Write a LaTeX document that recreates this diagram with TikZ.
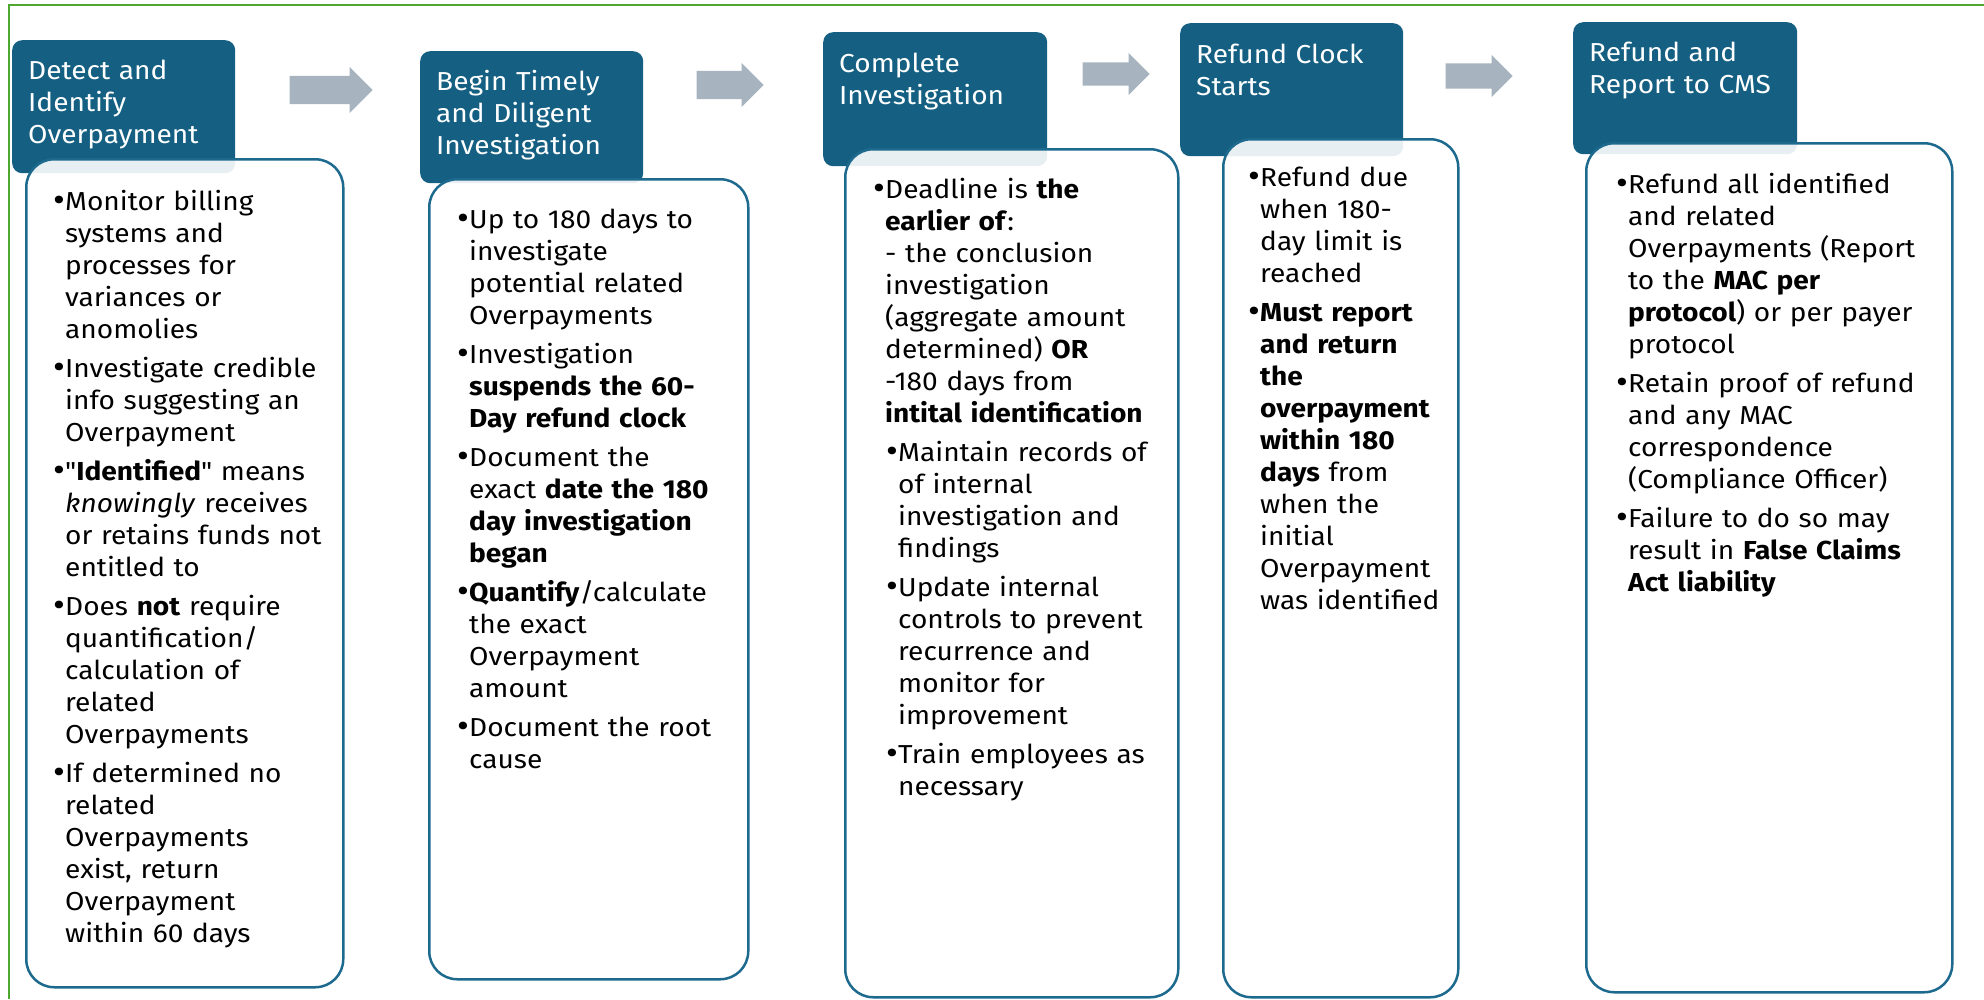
\documentclass[tikz,border=0pt]{standalone}
\usepackage{fontspec}
\usepackage{graphicx}
\setmainfont{Fira Sans}[FakeStretch=1.08]
\newfontfamily\plainq{Fira Sans}[FakeStretch=1.08]
\usetikzlibrary{shapes.arrows}
\definecolor{hdrblue}{HTML}{156082}
\definecolor{bodyblue}{HTML}{1D6A8E}
\definecolor{arrgray}{HTML}{A7B3BF}
\definecolor{frgreen}{HTML}{4EA72E}
\newlength{\bind}\setlength{\bind}{12pt}
\newcommand{\txtfont}{\fontsize{26}{32}\selectfont}
\newcommand{\bdot}{\raisebox{-1.5pt}{\scalebox{1.3}{\textbullet}}}
\newcommand{\bitem}[2][0pt]{\leftskip=#1\relax\hangindent=\bind\hangafter=1\noindent\makebox[\bind][l]{\rule{0pt}{24pt}\bdot}#2\par}
\newcommand{\htx}[1]{\noindent\rule{0pt}{24pt}#1}
\newcommand{\sq}{{\plainq"}}
\begin{document}
\begin{tikzpicture}[x=1pt,y=-1pt,
  hdr/.style={draw=none,fill=hdrblue,rounded corners=10pt,inner sep=0pt,anchor=north west},
  bodybox/.style={draw=bodyblue,line width=2.5pt,fill=white,fill opacity=0.9,rounded corners=28pt,inner sep=0pt,anchor=north west},
  htext/.style={text=white,font=\txtfont,anchor=north west,inner sep=0pt,text width=215pt},
  btext/.style={text=black,font=\txtfont,anchor=north west,inner sep=0pt,text width=400pt},
  blk/.style={single arrow,fill=arrgray,draw=none,inner xsep=0pt,single arrow head indent=0pt,anchor=tip}]
\useasboundingbox (0,0) rectangle (1984,999);
\fill[white] (0,0) rectangle (1984,999);
% frame
\coordinate (fbl) at (9,999);
\coordinate (ftl) at (9,5);
\coordinate (ftr) at (1984,5);
\draw[frgreen,line width=2.2pt] (fbl) -- (ftl) -- (ftr);
% headers
\node[hdr,minimum width=223pt,minimum height=133pt] (h1) at (12,40) {};
\node[hdr,minimum width=223pt,minimum height=132pt] (h2) at (420,51) {};
\node[hdr,minimum width=224pt,minimum height=134pt] (h3) at (823,32) {};
\node[hdr,minimum width=223pt,minimum height=133pt] (h4) at (1180,23) {};
\node[hdr,minimum width=224pt,minimum height=132pt] (h5) at (1573,22) {};
% bodies
\node[bodybox,minimum width=317pt,minimum height=828pt] (b1) at (25,158) {};
\node[bodybox,minimum width=319pt,minimum height=800pt] (b2) at (428,178) {};
\node[bodybox,minimum width=333pt,minimum height=848pt] (b3) at (844,148) {};
\node[bodybox,minimum width=235pt,minimum height=858pt] (b4) at (1222,138) {};
\node[bodybox,minimum width=366pt,minimum height=849pt] (b5) at (1585,142) {};
% arrows
\node[blk,minimum height=83pt,inner ysep=14pt,single arrow head extend=9pt] (a1) at (373,90) {};
\node[blk,minimum height=67pt,inner ysep=14pt,single arrow head extend=8pt] (a2) at (764,85) {};
\node[blk,minimum height=67pt,inner ysep=11.5pt,single arrow head extend=9.5pt] (a3) at (1150,74) {};
\node[blk,minimum height=67pt,inner ysep=12.5pt,single arrow head extend=8.5pt] (a4) at (1513,76) {};
% header texts
\node[htext] (t1) at (28,55) {\htx{Detect and\newline Identify\newline Overpayment}};
\node[htext] (t2) at (436,66) {\htx{Begin Timely\newline and Diligent\newline Investigation}};
\node[htext] (t3) at (839,48) {\htx{Complete\newline Investigation}};
\node[htext] (t4) at (1196,39) {\htx{Refund Clock\newline Starts}};
\node[htext] (t5) at (1589,37) {\htx{Refund and\newline Report to CMS}};
% body texts
\node[btext] (c1) at (53,186) {\setlength{\parskip}{7pt}%
\bitem{Monitor billing\newline systems and\newline processes for\newline variances or\newline anomolies}
\bitem{Investigate credible\newline info suggesting an\newline Overpayment}
\bitem{\sq\textbf{Identified}\sq{} means\newline \textit{knowingly} receives\newline or retains funds not\newline entitled to}
\bitem{Does \textbf{not} require\newline quantification/\newline calculation of\newline related\newline Overpayments}
\bitem{If determined no\newline related\newline Overpayments\newline exist, return\newline Overpayment\newline within 60 days}};
\node[btext] (c2) at (457,204) {\setlength{\parskip}{7pt}%
\bitem{Up to 180 days to\newline investigate\newline potential related\newline Overpayments}
\bitem{Investigation\newline \textbf{suspends the 60-\newline Day refund clock}}
\bitem{Document the\newline exact \textbf{date the 180\newline day investigation\newline began}}
\bitem{\textbf{Quantify}/calculate\newline the exact\newline Overpayment\newline amount}
\bitem{Document the root\newline cause}};
\node[btext] (c3) at (873,174) {\setlength{\parskip}{7pt}%
\bitem{Deadline is \textbf{the\newline earlier of}:\newline - the conclusion\newline investigation\newline (aggregate amount\newline determined) \textbf{OR}\newline -180 days from\newline \textbf{intital identification}}
\bitem[13pt]{Maintain records of\newline of internal\newline investigation and\newline findings}
\bitem[13pt]{Update internal\newline controls to prevent\newline recurrence and\newline monitor for\newline improvement}
\bitem[13pt]{Train employees as\newline necessary}};
\node[btext] (c4) at (1248,162) {\setlength{\parskip}{7pt}%
\bitem{Refund due\newline when 180-\newline day limit is\newline reached}
\bitem{\textbf{Must report\newline and return\newline the\newline overpayment\newline within 180\newline days} from\newline when the\newline initial\newline Overpayment\newline was identified}};
\node[btext] (c5) at (1616,169) {\setlength{\parskip}{7pt}%
\bitem{Refund all identified\newline and related\newline Overpayments (Report\newline to the \textbf{MAC per\newline protocol}) or per payer\newline protocol}
\bitem{Retain proof of refund\newline and any MAC\newline correspondence\newline (Compliance Officer)}
\bitem{Failure to do so may\newline result in \textbf{False Claims\newline Act liability}}};
\end{tikzpicture}
\end{document}
